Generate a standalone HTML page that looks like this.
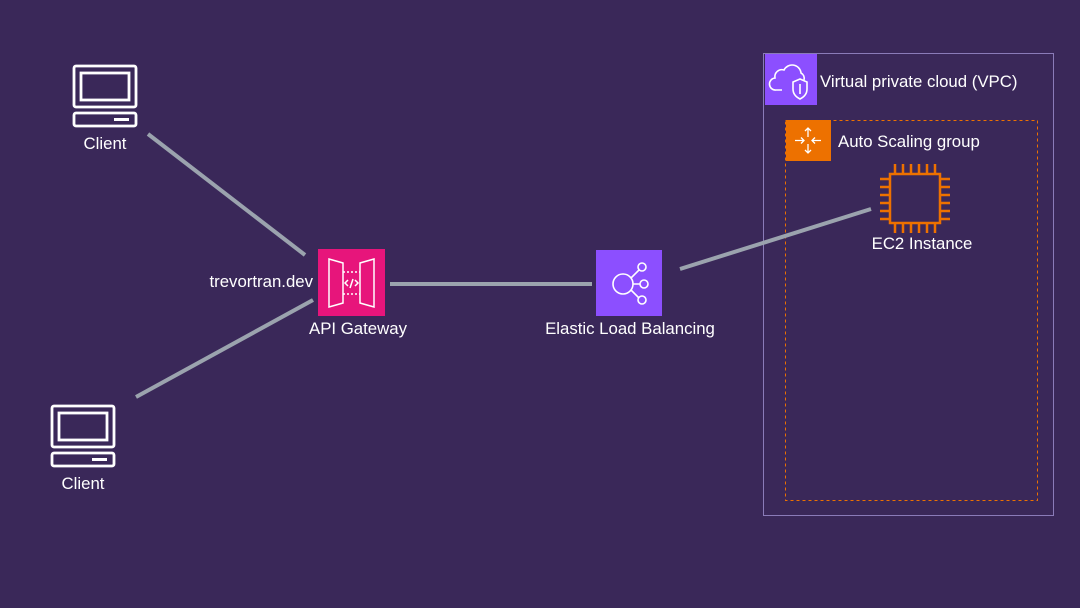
<!DOCTYPE html>
<html><head><style>
html,body{margin:0;padding:0;background:#3a2859;}
svg{display:block;font-family:"Liberation Sans",Arial,sans-serif;}
</style></head><body>
<svg width="1080" height="608" viewBox="0 0 1080 608" xmlns="http://www.w3.org/2000/svg">
<rect width="1080" height="608" fill="#3a2859"/>
<!-- VPC -->
<rect x="763.5" y="53.5" width="290" height="462" fill="none" stroke="#8a7bb8" stroke-width="1"/>
<rect x="765" y="54" width="52" height="51" fill="#8c4fff"/>
<g fill="none" stroke="#fff" stroke-width="1.6">
<path d="M782 90 h-6 a6 6 0 0 1 -1 -12 a7 7 0 0 1 9 -8 a9 9 0 0 1 17 3 a6 6 0 0 1 3 7"/>
<path d="M800 79 l7 3 v7 c0 5 -3 8 -7 10 c-4 -2 -7 -5 -7 -10 v-7 z"/>
<path d="M800 84 v10"/>
</g>
<text x="820" y="87" fill="#fff" font-size="16.8">Virtual private cloud (VPC)</text>
<!-- ASG -->
<rect x="785.5" y="120.5" width="252" height="380" fill="none" stroke="#ed7100" stroke-width="1" stroke-dasharray="3,3"/>
<rect x="786" y="120" width="45" height="41" fill="#ed7100"/>
<g stroke="#fff" stroke-width="1.3" fill="none">
<path d="M808 128 v9 M805 131 l3 -3 l3 3 M808 144 v9 M805 150 l3 3 l3 -3 M795 140.5 h9 M801 137.5 l3 3 l-3 3 M821 140.5 h-9 M815 137.5 l-3 3 l3 3"/>
</g>
<text x="838" y="147" fill="#fff" font-size="16.8">Auto Scaling group</text>
<!-- EC2 -->
<g stroke="#ed7100" stroke-width="2.5" fill="none">
<rect x="890" y="174" width="50" height="49"/>
<path d="M895 164v10M903 164v10M911 164v10M919 164v10M927 164v10M935 164v10
M895 223v10M903 223v10M911 223v10M919 223v10M927 223v10M935 223v10
M880 179h10M880 187h10M880 195h10M880 203h10M880 211h10M880 219h10
M940 179h10M940 187h10M940 195h10M940 203h10M940 211h10M940 219h10"/>
</g>
<text x="922" y="249" fill="#fff" font-size="16.8" text-anchor="middle">EC2 Instance</text>
<!-- lines -->
<g stroke="#9ba3ae" stroke-width="4" stroke-linecap="butt">
<line x1="148" y1="134" x2="305" y2="255"/>
<line x1="136" y1="397" x2="313" y2="300"/>
<line x1="390" y1="284" x2="592" y2="284"/>
<line x1="680" y1="269" x2="871" y2="209"/>
</g>
<!-- clients -->
<g fill="none" stroke="#fff" stroke-width="2.8">
<rect x="74" y="66" width="62" height="41" rx="2"/>
<rect x="81" y="73" width="48" height="27"/>
<rect x="74" y="113" width="62" height="13" rx="2"/>
<rect x="52" y="406" width="62" height="41" rx="2"/>
<rect x="59" y="413" width="48" height="27"/>
<rect x="52" y="453" width="62" height="13" rx="2"/>
</g>
<rect x="114" y="118" width="15" height="3" fill="#fff"/>
<rect x="92" y="458" width="15" height="3" fill="#fff"/>
<text x="105" y="149" fill="#fff" font-size="16.8" text-anchor="middle">Client</text>
<text x="83" y="489" fill="#fff" font-size="16.8" text-anchor="middle">Client</text>
<!-- API gateway -->
<rect x="318" y="249" width="67" height="67" fill="#e7157b"/>
<g fill="none" stroke="#fff" stroke-width="1.5">
<path d="M329 259 l14 4 v40 l-14 4 z"/>
<path d="M374 259 l-14 4 v40 l14 4 z"/>
<path d="M343 272 h17 M343 294 h17" stroke-dasharray="2,2"/>
<path d="M348 280 l-3 3 l3 3 M355 280 l3 3 l-3 3 M353 279 l-3 9"/>
</g>
<text x="313" y="287" fill="#fff" font-size="16.8" text-anchor="end">trevortran.dev</text>
<text x="358" y="334" fill="#fff" font-size="16.8" text-anchor="middle">API Gateway</text>
<!-- ELB -->
<rect x="596" y="250" width="66" height="66" fill="#8c4fff"/>
<g fill="none" stroke="#fff" stroke-width="1.6">
<circle cx="623" cy="284" r="10"/>
<circle cx="642" cy="267" r="4"/>
<circle cx="644" cy="284" r="4"/>
<circle cx="642" cy="300" r="4"/>
<path d="M631 278 l8 -8 M633 284 h7 M631 290 l8 8"/>
</g>
<text x="630" y="334" fill="#fff" font-size="16.8" text-anchor="middle">Elastic Load Balancing</text>
</svg>
</body></html>
